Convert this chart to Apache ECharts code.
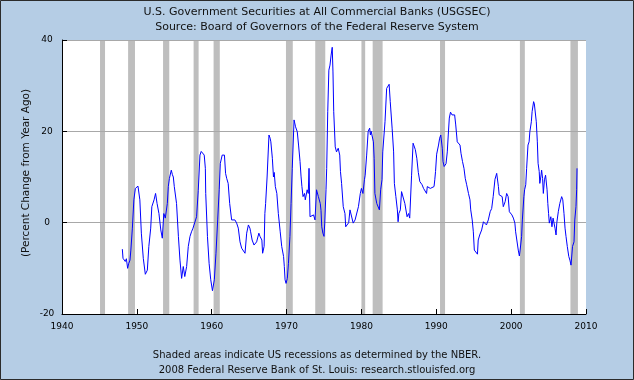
<!DOCTYPE html>
<html>
<head>
<meta charset="utf-8">
<script src="https://cdn.jsdelivr.net/npm/echarts@6/dist/echarts.min.js"></script>
<style>
html,body{margin:0;padding:0;background:#B5CDE5;}
#chart{width:634px;height:380px;}
</style>
</head>
<body>
<div id="chart"></div>
<script>
// ---- data ----
const titleLines = ["U.S. Government Securities at All Commercial Banks (USGSEC)", "Source: Board of Governors of the Federal Reserve System"];
const footerLines = ["Shaded areas indicate US recessions as determined by the NBER.", "2008 Federal Reserve Bank of St. Louis: research.stlouisfed.org"];
const yAxisTitle = "(Percent Change from Year Ago)";

const years = [
1948.06,1948.15,1948.3,1948.45,1948.6,1948.77,1948.9,1949.08,1949.2,1949.4,1949.6,1949.8,1950.0,1950.15,1950.4,1950.6,1950.86,
1951.13,1951.4,1951.6,1951.85,1952.0,1952.3,1952.5,1952.7,1952.95,1953.2,1953.4,1953.6,1953.8,1954.07,1954.2,1954.35,1954.6,1954.75,1954.87,
1955.0,1955.3,1955.55,1955.76,1955.98,1956.2,1956.4,1956.65,1956.87,1957.1,1957.3,1957.5,1957.75,1957.98,1958.2,1958.43,1958.6,1958.7,
1959.0,1959.15,1959.2,1959.43,1959.65,1959.87,1960.1,1960.35,1960.57,1960.8,1961.0,1961.15,1961.4,1961.7,1961.85,1962.0,1962.2,1962.4,
1962.66,1962.9,1963.1,1963.33,1963.55,1963.78,1964.0,1964.2,1964.45,1964.67,1964.9,1965.1,1965.2,1965.4,1965.65,1966.0,1966.3,1966.45,
1966.7,1966.8,1967.0,1967.1,1967.2,1967.4,1967.65,1967.8,1967.9,1968.1,1968.25,1968.35,1968.5,1968.7,1968.9,1969.15,1969.35,1969.6,
1969.7,1969.8,1969.93,1970.1,1970.25,1970.45,1970.6,1970.76,1971.0,1971.2,1971.43,1971.6,1971.8,1971.93,1972.05,1972.2,1972.4,1972.5,
1972.75,1972.9,1973.0,1973.13,1973.35,1973.6,1973.8,1974.0,1974.25,1974.5,1974.6,1974.7,1974.85,1975.0,1975.1,1975.27,1975.36,1975.5,
1975.65,1975.8,1975.95,1976.1,1976.2,1976.3,1976.5,1976.67,1976.9,1977.1,1977.2,1977.35,1977.57,1977.8,1977.9,1978.1,1978.3,1978.47,
1978.7,1978.9,1979.15,1979.4,1979.6,1979.85,1980.0,1980.2,1980.4,1980.5,1980.7,1980.9,1981.1,1981.2,1981.3,1981.6,1981.7,1981.8,
1982.05,1982.3,1982.4,1982.57,1982.75,1982.85,1983.15,1983.37,1983.6,1983.7,1983.85,1984.1,1984.3,1984.4,1984.6,1984.8,1984.9,1985.0,
1985.2,1985.36,1985.6,1985.8,1986.1,1986.3,1986.45,1986.7,1986.9,1987.0,1987.2,1987.4,1987.6,1987.8,1988.1,1988.3,1988.5,1988.7,
1988.8,1989.0,1989.2,1989.45,1989.7,1989.8,1989.9,1990.05,1990.3,1990.45,1990.6,1990.8,1990.9,1991.05,1991.3,1991.47,1991.6,1991.74,
1991.9,1992.1,1992.3,1992.45,1992.6,1992.8,1993.0,1993.17,1993.3,1993.5,1993.7,1993.87,1994.06,1994.3,1994.5,1994.6,1994.8,1994.95,
1995.08,1995.25,1995.5,1995.6,1995.8,1996.06,1996.3,1996.5,1996.7,1996.95,1997.2,1997.4,1997.6,1997.84,1998.07,1998.2,1998.3,1998.4,
1998.6,1998.8,1998.95,1999.2,1999.4,1999.6,1999.76,1999.95,2000.1,2000.3,2000.5,2000.6,2000.8,2000.95,2001.1,2001.2,2001.4,2001.5,
2001.7,2001.8,2001.95,2002.07,2002.25,2002.4,2002.5,2002.7,2002.8,2003.0,2003.1,2003.25,2003.36,2003.5,2003.6,2003.75,2003.83,2003.96,
2004.07,2004.2,2004.3,2004.45,2004.6,2004.8,2004.9,2005.0,2005.1,2005.3,2005.45,2005.6,2005.86,2006.0,2006.1,2006.3,2006.5,2006.75,
2006.9,2007.06,2007.2,2007.33,2007.5,2007.7,2007.85,2008.0,2008.2,2008.4,2008.5,2008.66,2008.75,2008.8
];
const values = [
-5.8,-7.8,-7.5,-8.5,-7.9,-10.0,-9.0,-8.2,-6.0,-1.2,5.0,7.5,7.8,8.0,5.0,-2.3,-7.8,
-11.3,-10.4,-5.2,-1.2,3.5,5.0,6.4,4.2,2.0,-1.6,-3.4,2.0,1.0,4.2,7.9,9.7,11.5,10.5,10.0,
7.9,4.2,-3.0,-8.2,-12.2,-9.6,-11.8,-9.6,-5.2,-3.0,-2.0,-1.2,-0.9,1.3,7.0,14.8,15.6,15.9,
14.8,11.9,6.4,-3.0,-8.9,-12.5,-14.9,-12.5,-6.7,0.6,7.2,13.0,14.8,14.8,10.8,9.7,8.6,4.2,
0.6,0.2,0.6,-0.1,-1.2,-4.2,-5.6,-6.0,-6.7,-2.3,-0.5,-1.2,-2.0,-3.8,-4.9,-4.2,-2.3,-3.0,
-3.8,-6.7,-5.2,2.0,4.2,10.0,19.2,18.5,17.7,14.1,10.0,11.0,7.9,6.4,2.0,-2.0,-5.2,-7.4,
-9.6,-12.5,-13.3,-12.2,-8.9,-3.0,4.2,11.9,22.5,21.0,19.9,17.0,13.4,10.2,7.9,5.7,6.4,5.0,
7.2,6.4,11.9,1.3,1.0,1.7,0.6,7.2,5.7,4.2,2.7,-0.9,-2.3,-3.0,-0.1,7.2,11.9,24.3,
33.4,34.5,36.7,38.4,33.0,24.3,16.6,15.5,16.3,14.8,11.2,8.6,3.5,2.0,-0.9,-1.2,0.0,2.8,
2.4,-0.1,0.6,1.0,3.5,6.4,7.5,6.4,9.4,10.4,14.8,20.0,20.7,19.2,20.0,17.7,14.1,6.4,
4.2,4.5,2.8,7.2,9.4,15.5,22.1,29.4,29.0,30.3,26.5,20.7,15.5,8.6,5.7,2.8,0.2,2.0,
2.8,6.8,6.4,4.2,1.3,2.0,1.0,10.4,17.4,17.0,16.0,14.1,11.0,9.0,8.3,7.5,7.2,6.4,
7.9,8.3,7.5,7.2,7.9,9.4,11.2,15.0,17.0,18.5,19.2,16.3,13.4,12.3,12.9,15.5,19.2,22.9,
24.2,23.6,23.9,23.6,21.4,17.7,17.4,17.0,15.2,13.4,11.9,9.7,8.3,6.4,5.0,2.8,0.6,-2.0,
-6.0,-6.3,-6.9,-3.8,-2.7,-1.6,0.2,-0.1,-0.5,0.6,2.4,3.1,5.7,9.5,10.8,10.4,7.9,6.1,
6.4,5.7,3.5,4.6,6.4,5.7,2.4,2.4,1.7,1.0,-0.1,-2.0,-2.3,-6.0,-7.3,-6.0,-3.0,0.6,
5.7,7.2,8.3,11.9,17.0,17.7,19.9,22.1,24.3,26.5,26.0,25.8,22.1,17.7,13.0,11.2,8.6,10.0,
11.5,9.7,6.4,9.4,10.4,7.2,4.2,2.0,-0.1,1.3,-0.9,1.0,-1.2,-2.7,0.0,2.4,4.2,5.7,
5.0,2.0,-1.2,-3.0,-5.2,-7.4,-8.2,-9.3,-5.2,-4.2,0.6,3.5,7.2,11.9
];

// NBER recessions (decimal years)
const recessionStart = [1945.08,1948.83,1953.5,1957.58,1960.25,1969.92,1973.83,1980.0,1981.5,1990.5,2001.17,2007.92];
const recessionEnd   = [1945.75,1949.75,1954.33,1958.25,1961.08,1970.83,1975.17,1980.5,1982.83,1991.17,2001.83,2008.92];

const xTicks = {min:1940, max:2010, step:10};
const yTicks = {min:-20, max:40, step:20};

// ---- chart ----
const FONT = 'DejaVu Sans';
const chart = echarts.init(document.getElementById('chart'), null, {renderer:'canvas'});
const lineData = years.map((y,i)=>[y, values[i]]);
const recData = recessionStart.map((s,i)=>[s, recessionEnd[i]]);

chart.setOption({
  animation:false,
  backgroundColor:'#B5CDE5',
  grid:{left:62, top:40, width:524, height:274, show:true, backgroundColor:'#FFFFFF', borderWidth:0},
  xAxis:{
    type:'value', min:xTicks.min, max:xTicks.max, interval:xTicks.step, z:2,
    axisLine:{show:true, onZero:false, lineStyle:{color:'#000', width:1}},
    axisTick:{show:true, inside:true, length:5, lineStyle:{color:'#000'}},
    axisLabel:{color:'#000', fontFamily:FONT, fontSize:9, margin:8, formatter:v=>String(v)},
    splitLine:{show:false}
  },
  yAxis:{
    type:'value', min:yTicks.min, max:yTicks.max, interval:yTicks.step, z:2,
    axisLine:{show:true, onZero:false, lineStyle:{color:'#000', width:1}},
    axisTick:{show:true, inside:true, length:5, lineStyle:{color:'#000'}},
    axisLabel:{color:'#000', fontFamily:FONT, fontSize:9, margin:15, align:'center'},
    splitLine:{show:true, lineStyle:{color:'#A8A8A8', width:1}}
  },
  series:[
    {
      type:'custom', z:1, silent:true,
      data:recData,
      encode:{x:[0,1]},
      renderItem:function(params, api){
        const s = api.coord([api.value(0), 0]);
        const e = api.coord([api.value(1), 0]);
        const cs = params.coordSys;
        return {type:'rect', shape:{x:s[0], y:cs.y, width:e[0]-s[0], height:cs.height}, style:{fill:'#BEBEBE'}};
      }
    },
    {
      type:'line', z:3, data:lineData, showSymbol:false, symbol:'none',
      lineStyle:{color:'#0000FF', width:1}
    }
  ],
  graphic:[
    {type:'text', left:'center', top:7, style:{text:titleLines[0], font:'11px "DejaVu Sans"', fill:'#111'}},
    {type:'text', left:'center', top:22, style:{text:titleLines[1], font:'11px "DejaVu Sans"', fill:'#111'}},
    {type:'text', left:'center', top:350, style:{text:footerLines[0], font:'10px "DejaVu Sans"', fill:'#111'}},
    {type:'text', left:'center', top:365, style:{text:footerLines[1], font:'10px "DejaVu Sans"', fill:'#111'}},
    {type:'text', x:26, y:173, rotation:Math.PI/2, style:{text:yAxisTitle, font:'10.5px "DejaVu Sans"', fill:'#111', align:'center', verticalAlign:'middle'}},
    {type:'rect', shape:{x:0.5, y:0.5, width:633, height:379}, style:{fill:'none', stroke:'#2B2B2B', lineWidth:1}, silent:true}
  ]
});
</script>
</body>
</html>
